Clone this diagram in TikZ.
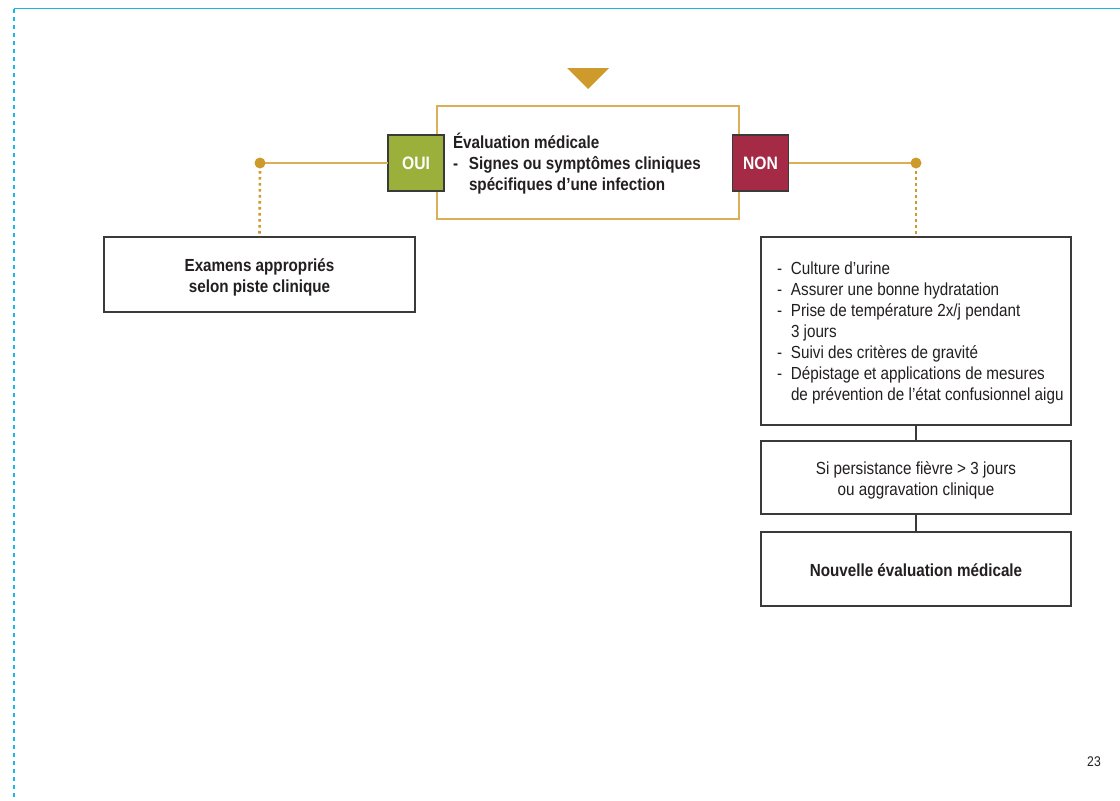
\documentclass[tikz,border=0pt]{standalone}
\usepackage{fontspec}
\setmainfont{Liberation Sans}[FakeStretch=0.87]
\definecolor{frameblue}{HTML}{1BB4E8}
\definecolor{goldline}{HTML}{DCAE55}
\definecolor{golddark}{HTML}{CF9A2C}
\definecolor{ouigreen}{HTML}{9BB03A}
\definecolor{nonred}{HTML}{A52A45}
\definecolor{boxgray}{HTML}{3A3A3A}
\definecolor{txt}{HTML}{231F20}
\begin{document}
\begin{tikzpicture}[x=1pt,y=-1pt,
  every node/.style={inner sep=0pt,outer sep=0pt,text=txt},
  txtfont/.style={font=\fontsize{17.5}{21}\selectfont},
  boldfont/.style={font=\fontsize{17.5}{21}\selectfont\bfseries},
  grayframe/.style={draw=boxgray,line width=1.3pt,fill=white,anchor=north west},
  tagbox/.style={draw=boxgray,line width=1.3pt,minimum width=56pt,minimum height=56pt,
    text=white,font=\fontsize{18}{20}\selectfont\bfseries},
  branch/.style={draw=goldline,line width=2pt},
  dotline/.style={draw=golddark,line width=2.6pt,dash pattern=on 2.6pt off 3.4pt},
  link/.style={draw=boxgray,line width=1.3pt}]
\useasboundingbox (0,0) rectangle (1120,801);

% page frame
\draw[frameblue,line width=1.8pt] (14,8.5) -- (1120,8.5);
\draw[frameblue,line width=2.2pt,dash pattern=on 4pt off 4pt] (14,9) -- (14,801);

% incoming marker
\fill[golddark] (567,68) -- (609,68) -- (588,89) -- cycle;

% central decision box
\node[draw=goldline,line width=1.8pt,anchor=north west,minimum width=302pt,minimum height=113pt] (eval) at (437,106) {};
\node[boldfont,anchor=north west,align=left] (evaltxt) at (453,133)
  {Évaluation médicale\\\makebox[16pt][l]{-}Signes ou symptômes cliniques\\\hspace*{16pt}spécifiques d’une infection};

\node[tagbox,fill=ouigreen] (oui) at (416,163) {OUI};
\node[tagbox,fill=nonred] (non) at (760.5,163) {NON};

% branch junctions
\coordinate (jl) at (260,163);
\coordinate (jr) at (916,163);

% left branch
\node[grayframe,minimum width=311pt,minimum height=75pt] (exam) at (104,237) {};
\node[boldfont,align=center,yshift=-3pt] (examtxt) at (exam.center)
  {Examens appropriés\\selon piste clinique};

% right branch
\node[grayframe,minimum width=310pt,minimum height=188pt] (care) at (761,237) {};
\node[txtfont,anchor=north west,align=left] (caretxt) at (777,262)
  {\makebox[14pt][l]{-}Culture d’urine\\
   \makebox[14pt][l]{-}Assurer une bonne hydratation\\
   \makebox[14pt][l]{-}Prise de température 2x/j pendant\\
   \hspace*{14pt}3 jours\\
   \makebox[14pt][l]{-}Suivi des critères de gravité\\
   \makebox[14pt][l]{-}Dépistage et applications de mesures\\
   \hspace*{14pt}de prévention de l’état confusionnel aigu};

\node[grayframe,minimum width=310pt,minimum height=73pt] (fever) at (761,441) {};
\node[txtfont,align=center,yshift=-3pt] (fevertxt) at (fever.center)
  {Si persistance fièvre > 3 jours\\ou aggravation clinique};

\node[grayframe,minimum width=310pt,minimum height=74pt] (again) at (761,532) {};
\node[boldfont,yshift=-1pt] (againtxt) at (again.center)
  {Nouvelle évaluation médicale};

% connectors
\draw[branch] (oui.west) -- (jl);
\draw[branch] (non.east) -- (jr);
\fill[golddark] (jl) circle (5.5pt);
\fill[golddark] (jr) circle (5.5pt);
\draw[dotline] ([yshift=-8pt]jl) -- (exam.north);
\draw[dotline] ([yshift=-8pt]jr) -- (care.north);
\draw[link] (care.south) -- (fever.north);
\draw[link] (fever.south) -- (again.north);

% page number
\node[font=\fontsize{14}{16}\selectfont] (pageno) at (1094,762) {23};
\end{tikzpicture}
\end{document}
